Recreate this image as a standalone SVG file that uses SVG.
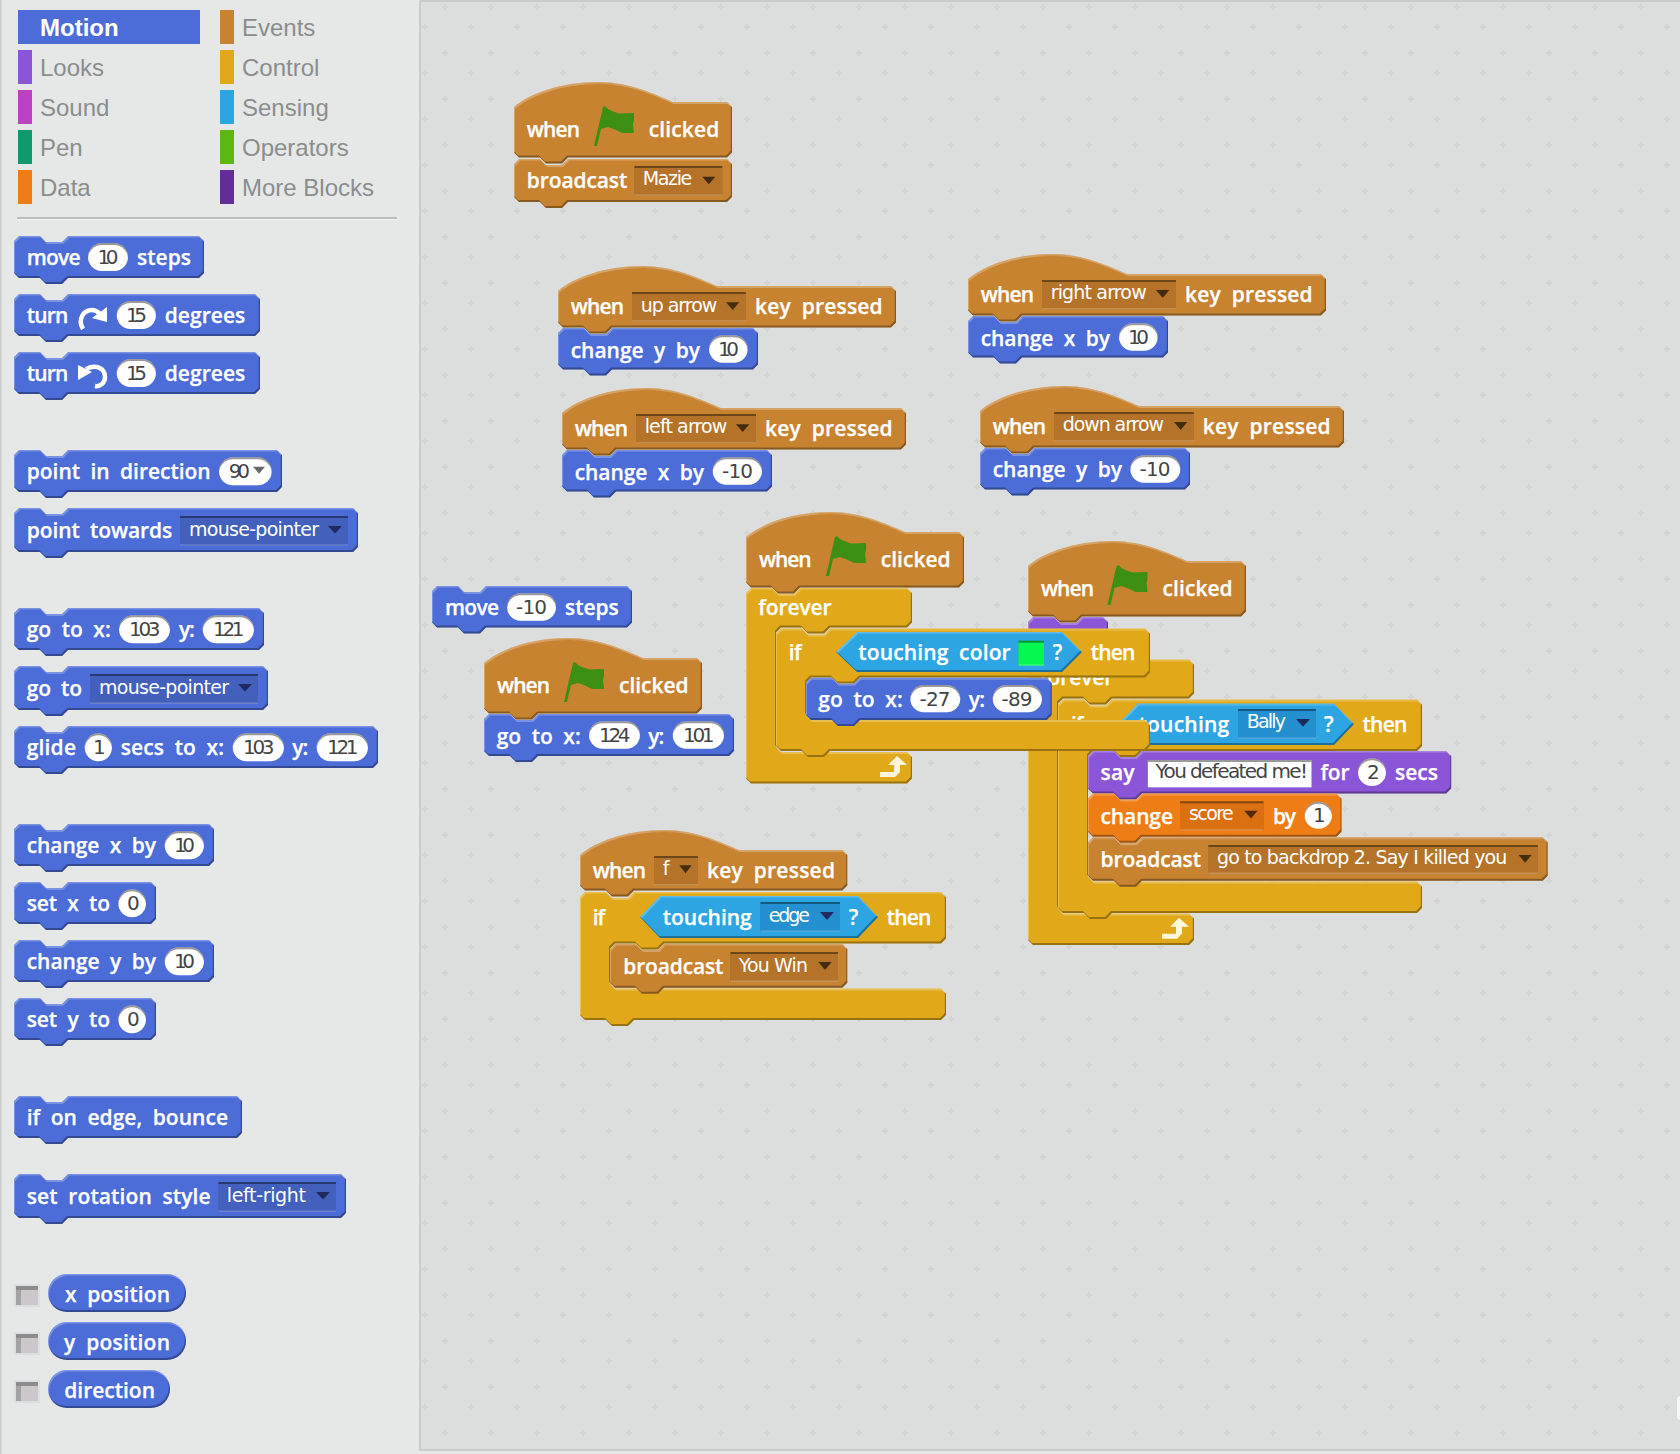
<svg xmlns="http://www.w3.org/2000/svg" xmlns:xlink="http://www.w3.org/1999/xlink" width="1680" height="1454" viewBox="0 0 1680 1454">
<style>
.t{font:600 21px "Open Sans","DejaVu Sans",sans-serif;fill:#fff;word-spacing:5px;stroke:#fff;stroke-width:.25px;transform:translateY(.3px)}
.n{font:400 20px "DejaVu Sans","Open Sans",sans-serif;fill:#444;text-anchor:start}
.m{font:400 19px "DejaVu Sans","Open Sans",sans-serif;fill:#fff}
.c{font:400 24px "Liberation Sans",Arial,sans-serif;fill:#8b8d8d}
.bk{filter:url(#bv)}
.inp{fill:#fff;filter:url(#iv)}
.mn{filter:url(#iv)}
.mot{fill:#4c6cd8}.evt{fill:#c88331}.ctl{fill:#e1a91a}.sen{fill:#2ca5e2}.loo{fill:#8a55d7}.dat{fill:#ee7d16}
.mmot{fill:#4360bd}.mevt{fill:#b47328}.msen{fill:#2490cf}.mdat{fill:#da7012}
.a{fill:#000;fill-opacity:.62}
.ar{fill:#1e2a60}
.lp{fill:#fff6dc}
.fl{fill:#3d8f13}
.ck{fill:#dedee2}.ci{fill:#cbc7ca}.ct{fill:#8c8c8c}.cl{fill:#a2a2a2}
</style>
<defs>
<filter id="bv" x="-2%" y="-6%" width="104%" height="112%" color-interpolation-filters="sRGB">
<feOffset in="SourceAlpha" dx="1" dy="1.5" result="a"/><feComposite in="SourceAlpha" in2="a" operator="out" result="tp"/>
<feFlood flood-color="#fff" flood-opacity=".26"/><feComposite in2="tp" operator="in" result="hi"/>
<feOffset in="SourceAlpha" dx="-1.2" dy="-2" result="b"/><feComposite in="SourceAlpha" in2="b" operator="out" result="bt"/>
<feFlood flood-color="#000" flood-opacity=".32"/><feComposite in2="bt" operator="in" result="lo"/>
<feMerge><feMergeNode in="SourceGraphic"/><feMergeNode in="hi"/><feMergeNode in="lo"/></feMerge>
</filter>
<filter id="iv" x="-2%" y="-6%" width="104%" height="112%" color-interpolation-filters="sRGB">
<feOffset in="SourceAlpha" dy="2" result="a"/><feComposite in="SourceAlpha" in2="a" operator="out" result="tp"/>
<feFlood flood-color="#000" flood-opacity=".4"/><feComposite in2="tp" operator="in" result="hi"/>
<feOffset in="SourceAlpha" dy="-1.5" result="b"/><feComposite in="SourceAlpha" in2="b" operator="out" result="bt"/>
<feFlood flood-color="#fff" flood-opacity=".22"/><feComposite in2="bt" operator="in" result="lo"/>
<feMerge><feMergeNode in="SourceGraphic"/><feMergeNode in="hi"/><feMergeNode in="lo"/></feMerge>
</filter>
<pattern id="g" width="46" height="46" patternUnits="userSpaceOnUse"><path fill="#d3d5d4" d="M30,4h2v2h2v2h-2v2h-2v-2h-2v-2h2zM10,24h2v2h2v2h-2v2h-2v-2h-2v-2h2z"/></pattern>
<path id="flag" d="M0,40L9,1 11,0 14,3 18,5 25,7.5 40,7 40,14 39,18 40,27 33,27 28,27 22,24 14,21 7,23 3,40z"/>
<path id="loop" d="M0,16H14V9H8L17,0 27,9H20V16L15,21H0z"/>
</defs>
<rect width="1680" height="1454" fill="#e6e8e8"/>
<rect x="0" y="0" width="1.5" height="1454" fill="#c9cbcb"/>
<g id="scripts-pane"><rect x="420" y="1" width="1261" height="1449" fill="#dcdedd" stroke="#c2c4c3" stroke-width="1.5"/><rect x="420" y="2" width="1260" height="1447" fill="url(#g)"/><rect x="1677" y="1396" width="10" height="24" rx="4" fill="#f5f5f5"/></g>
<g id="categories">
<rect x="18" y="10" width="182" height="34" fill="#4c6cd8"/><text x="40" y="36" style="font:700 24px 'Liberation Sans',Arial,sans-serif;fill:#fff">Motion</text>
<rect x="18" y="50" width="14" height="34" fill="#8a55d7"/><text class="c" x="40" y="76">Looks</text>
<rect x="18" y="90" width="14" height="34" fill="#bb42c3"/><text class="c" x="40" y="116">Sound</text>
<rect x="18" y="130" width="14" height="34" fill="#0e9a6c"/><text class="c" x="40" y="156">Pen</text>
<rect x="18" y="170" width="14" height="34" fill="#ee7d16"/><text class="c" x="40" y="196">Data</text>
<rect x="220" y="10" width="14" height="34" fill="#c88331"/><text class="c" x="242" y="36">Events</text>
<rect x="220" y="50" width="14" height="34" fill="#e1a91a"/><text class="c" x="242" y="76">Control</text>
<rect x="220" y="90" width="14" height="34" fill="#2ca5e2"/><text class="c" x="242" y="116">Sensing</text>
<rect x="220" y="130" width="14" height="34" fill="#5cb712"/><text class="c" x="242" y="156">Operators</text>
<rect x="220" y="170" width="14" height="34" fill="#632d99"/><text class="c" x="242" y="196">More Blocks</text>
<rect x="17" y="217" width="380" height="2" fill="#bbbdbd"/><rect x="17" y="219" width="380" height="1" fill="#f1f2f2"/>
</g>

<g id="p-move"><path class="bk mot" d="M14,241l5-5h21l6,6h16l6-6H199l5,5V273l-5,5H68l-6,6h-16l-6-6H19l-5-5z"/><text class="t" x="26.7" y="265" textLength="54">move</text><rect class="inp" x="88" y="243" width="40" height="28" rx="14"/><text class="n" x="97.5" y="264" textLength="21">10</text><text class="t" x="137" y="265" textLength="54">steps</text></g>
<g id="p-turn-cw"><path class="bk mot" d="M14,299l5-5h21l6,6h16l6-6H255l5,5V331l-5,5H68l-6,6h-16l-6-6H19l-5-5z"/><text class="t" x="26.7" y="323" textLength="41.6">turn</text><path d="M83,329C77,319 84,310 92,310C95,310 97,311 100,314" fill="none" stroke="#fff" stroke-width="4.5"/><path d="M107,307V322L92,318z" fill="#fff"/><rect class="inp" x="116.7" y="301" width="39.3" height="28" rx="14"/><text class="n" x="126" y="322" textLength="21">15</text><text class="t" x="164.7" y="323" textLength="80.6">degrees</text></g>
<g id="p-turn-ccw"><path class="bk mot" d="M14,357l5-5h21l6,6h16l6-6H255l5,5V389l-5,5H68l-6,6h-16l-6-6H19l-5-5z"/><text class="t" x="26.7" y="381" textLength="41.6">turn</text><path d="M86,369C96,364 105,368 105,377C105,383 100,387 95,386" fill="none" stroke="#fff" stroke-width="4.5"/><path d="M78,365V380L92,372z" fill="#fff"/><rect class="inp" x="116.7" y="359" width="39.3" height="28" rx="14"/><text class="n" x="126" y="380" textLength="21">15</text><text class="t" x="164.7" y="381" textLength="80.6">degrees</text></g>
<g id="p-point-dir"><path class="bk mot" d="M14,455l5-5h21l6,6h16l6-6H277l5,5V487l-5,5H68l-6,6h-16l-6-6H19l-5-5z"/><text class="t" x="26.7" y="479" textLength="184">point in direction</text><rect class="inp" x="219" y="457.3" width="52.7" height="28" rx="14"/><text class="n" x="228.7" y="478" textLength="21.3">90</text><path d="M253,466.7h12l-6,7z" fill="#666"/></g>
<g id="p-point-to"><path class="bk mot" d="M14,513l5-5h21l6,6h16l6-6H353l5,5V547l-5,5H68l-6,6h-16l-6-6H19l-5-5z"/><text class="t" x="26.7" y="538" textLength="145.6">point towards</text><rect class="mn mmot" x="180" y="516" width="168" height="29.7"/><text class="m" x="189" y="536" textLength="130">mouse-pointer</text><path class="ar" d="M328,526h14l-7,7.5z"/></g>
<g id="p-goto-xy"><path class="bk mot" d="M14,613l5-5h21l6,6h16l6-6H259l5,5V645l-5,5H68l-6,6h-16l-6-6H19l-5-5z"/><text class="t" x="26.7" y="637" textLength="84">go to x:</text><rect class="inp" x="119" y="615.3" width="51" height="28" rx="14"/><text class="n" x="129" y="636" textLength="31.5">103</text><text class="t" x="179" y="637" textLength="15.7">y:</text><rect class="inp" x="202.7" y="615.3" width="51.3" height="28" rx="14"/><text class="n" x="213" y="636" textLength="31.5">121</text></g>
<g id="p-goto"><path class="bk mot" d="M14,671l5-5h21l6,6h16l6-6H263l5,5V705l-5,5H68l-6,6h-16l-6-6H19l-5-5z"/><text class="t" x="26.7" y="696" textLength="55.3">go to</text><rect class="mn mmot" x="90" y="674" width="168" height="30"/><text class="m" x="99" y="694" textLength="130">mouse-pointer</text><path class="ar" d="M238,684h14l-7,7.5z"/></g>
<g id="p-glide"><path class="bk mot" d="M14,731l5-5h21l6,6h16l6-6H373l5,5V763l-5,5H68l-6,6h-16l-6-6H19l-5-5z"/><text class="t" x="26.7" y="755" textLength="49.3">glide</text><rect class="inp" x="84.7" y="733.3" width="27.3" height="28" rx="14"/><text class="n" x="93" y="754" textLength="10.5">1</text><text class="t" x="120.7" y="755" textLength="103.3">secs to x:</text><rect class="inp" x="232.7" y="733.3" width="51.3" height="28" rx="14"/><text class="n" x="243" y="754" textLength="31.5">103</text><text class="t" x="292.3" y="755" textLength="16">y:</text><rect class="inp" x="316.7" y="733.3" width="51.3" height="28" rx="14"/><text class="n" x="327" y="754" textLength="31.5">121</text></g>
<g id="p-change-x"><path class="bk mot" d="M14,829l5-5h21l6,6h16l6-6H209l5,5V861l-5,5H68l-6,6h-16l-6-6H19l-5-5z"/><text class="t" x="26.7" y="853" textLength="129.3">change x by</text><rect class="inp" x="164.7" y="831.3" width="39.3" height="28" rx="14"/><text class="n" x="174" y="852" textLength="21">10</text></g>
<g id="p-set-x"><path class="bk mot" d="M14,887l5-5h21l6,6h16l6-6H151l5,5V919l-5,5H68l-6,6h-16l-6-6H19l-5-5z"/><text class="t" x="26.7" y="911" textLength="83.3">set x to</text><rect class="inp" x="118.3" y="889.3" width="27.7" height="28" rx="14"/><text class="n" x="127" y="910" textLength="10.5">0</text></g>
<g id="p-change-y"><path class="bk mot" d="M14,945l5-5h21l6,6h16l6-6H209l5,5V977l-5,5H68l-6,6h-16l-6-6H19l-5-5z"/><text class="t" x="26.7" y="969" textLength="129.3">change y by</text><rect class="inp" x="164.7" y="947.3" width="39.3" height="28" rx="14"/><text class="n" x="174" y="968" textLength="21">10</text></g>
<g id="p-set-y"><path class="bk mot" d="M14,1003l5-5h21l6,6h16l6-6H151l5,5V1035l-5,5H68l-6,6h-16l-6-6H19l-5-5z"/><text class="t" x="26.7" y="1027" textLength="83.3">set y to</text><rect class="inp" x="118.3" y="1005.3" width="27.7" height="28" rx="14"/><text class="n" x="127" y="1026" textLength="10.5">0</text></g>
<g id="p-bounce"><path class="bk mot" d="M14,1101l5-5h21l6,6h16l6-6H237l5,5V1133l-5,5H68l-6,6h-16l-6-6H19l-5-5z"/><text class="t" x="26.7" y="1125" textLength="201.3">if on edge, bounce</text></g>
<g id="p-rotation"><path class="bk mot" d="M14,1179l5-5h21l6,6h16l6-6H341l5,5V1213l-5,5H68l-6,6h-16l-6-6H19l-5-5z"/><text class="t" x="26.7" y="1204" textLength="184">set rotation style</text><rect class="mn mmot" x="218.3" y="1182" width="117.7" height="30"/><text class="m" x="226.7" y="1202" textLength="79.3">left-right</text><path class="ar" d="M316,1192h14l-7,7.5z"/></g>
<g id="p-x-pos"><rect class="ck" x="14" y="1284" width="26" height="23"/><rect class="ci" x="16" y="1286" width="22" height="19"/><rect class="cl" x="16" y="1286" width="5" height="19"/><rect class="ct" x="16" y="1286" width="22" height="4"/><rect class="bk mot" x="48" y="1274" width="138" height="38" rx="19"/><text class="t" x="65" y="1302" textLength="105">x position</text></g>
<g id="p-y-pos"><rect class="ck" x="14" y="1332" width="26" height="23"/><rect class="ci" x="16" y="1334" width="22" height="19"/><rect class="cl" x="16" y="1334" width="5" height="19"/><rect class="ct" x="16" y="1334" width="22" height="4"/><rect class="bk mot" x="48" y="1322" width="138" height="38" rx="19"/><text class="t" x="64" y="1350" textLength="106">y position</text></g>
<g id="p-direction"><rect class="ck" x="14" y="1380" width="26" height="23"/><rect class="ci" x="16" y="1382" width="22" height="19"/><rect class="cl" x="16" y="1382" width="5" height="19"/><rect class="ct" x="16" y="1382" width="22" height="4"/><rect class="bk mot" x="48" y="1370" width="122" height="38" rx="19"/><text class="t" x="64.3" y="1398" textLength="90.7">direction</text></g>

<g id="s-mazie-hat"><path class="bk evt" d="M514,107c15-13 45-25 85-25c30,0 55,12 74,20H727l5,5V152.500l-5,5H568l-6,6h-16l-6-6H519l-5-5z"/><text class="t" x="526.7" y="137" textLength="53.3">when</text><use href="#flag" class="fl" x="594" y="106"/><text class="t" x="648.7" y="137" textLength="70.6">clicked</text></g>
<g id="s-mazie"><path class="bk evt" d="M514,164l5-5h21l6,6h16l6-6H727l5,5V197l-5,5H568l-6,6h-16l-6-6H519l-5-5z"/><text class="t" x="526.7" y="188" textLength="100.6">broadcast</text><rect class="mn mevt" x="634.3" y="166" width="88" height="29.7"/><text class="m" x="642.7" y="185" textLength="49.6">Mazie</text><path class="a" d="M702.300,176.700h13l-6.500,7.500z"/></g>

<g id="s-up-hat"><path class="bk evt" d="M558,291c15-13 45-25 85-25c30,0 55,12 74,20H891l5,5V322.500l-5,5H612l-6,6h-16l-6-6H563l-5-5z"/><text class="t" x="570.7" y="313.300" textLength="53.3">when</text><rect class="mn mevt" x="632" y="292" width="114" height="29.300"/><text class="m" x="640.7" y="311.700" textLength="76.600">up arrow</text><path class="a" d="M726,302.300h13.300l-6.600,7.700z"/><text class="t" x="755" y="313.300" textLength="127.700">key pressed</text></g>
<g id="s-up"><path class="bk mot" d="M558,333l5-5h21l6,6h16l6-6H753l5,5V364.500l-5,5H612l-6,6h-16l-6-6H563l-5-5z"/><text class="t" x="570.7" y="357.300" textLength="129.300">change y by</text><rect class="inp" x="709" y="335.300" width="38.700" height="27.400" rx="13.700"/><text class="n" x="718" y="356" textLength="21">10</text></g>
<g id="s-left-hat"><path class="bk evt" d="M562,413c15-13 45-25 85-25c30,0 55,12 74,20H901l5,5V444.500l-5,5H616l-6,6h-16l-6-6H567l-5-5z"/><text class="t" x="574.7" y="435.300" textLength="53.3">when</text><rect class="mn mevt" x="636" y="414" width="120" height="29.300"/><text class="m" x="644.7" y="433.300" textLength="82.600">left arrow</text><path class="a" d="M736,424.300h13.300l-6.600,7.700z"/><text class="t" x="765" y="435.300" textLength="127.700">key pressed</text></g>
<g id="s-left"><path class="bk mot" d="M562,455l5-5h21l6,6h16l6-6H767l5,5V486.500l-5,5H616l-6,6h-16l-6-6H567l-5-5z"/><text class="t" x="574.7" y="479.300" textLength="129.300">change x by</text><rect class="inp" x="712.7" y="457.300" width="49.300" height="27.400" rx="13.700"/><text class="n" x="722" y="478" textLength="31">-10</text></g>
<g id="s-right-hat"><path class="bk evt" d="M968,279c15-13 45-25 85-25c30,0 55,12 74,20H1321l5,5V310.500l-5,5H1022l-6,6h-16l-6-6H973l-5-5z"/><text class="t" x="980.7" y="301.300" textLength="53.3">when</text><rect class="mn mevt" x="1042" y="280" width="134" height="29.300"/><text class="m" x="1050.7" y="299.300" textLength="96">right arrow</text><path class="a" d="M1156,290h13.300l-6.600,8z"/><text class="t" x="1185" y="301.300" textLength="127.700">key pressed</text></g>
<g id="s-right"><path class="bk mot" d="M968,321l5-5h21l6,6h16l6-6H1163l5,5V352.500l-5,5H1022l-6,6h-16l-6-6H973l-5-5z"/><text class="t" x="980.7" y="345.300" textLength="129.300">change x by</text><rect class="inp" x="1119" y="323.300" width="38.700" height="27.400" rx="13.700"/><text class="n" x="1128" y="344" textLength="21">10</text></g>
<g id="s-down-hat"><path class="bk evt" d="M980,411c15-13 45-25 85-25c30,0 55,12 74,20H1339l5,5V442.500l-5,5H1034l-6,6h-16l-6-6H985l-5-5z"/><text class="t" x="992.7" y="433.300" textLength="53.3">when</text><rect class="mn mevt" x="1054" y="412" width="140" height="29.300"/><text class="m" x="1062.7" y="431.300" textLength="101.300">down arrow</text><path class="a" d="M1174,422h13.300l-6.600,8z"/><text class="t" x="1202.7" y="433.300" textLength="128">key pressed</text></g>
<g id="s-down"><path class="bk mot" d="M980,453l5-5h21l6,6h16l6-6H1185l5,5V484.500l-5,5H1034l-6,6h-16l-6-6H985l-5-5z"/><text class="t" x="992.7" y="477" textLength="129.300">change y by</text><rect class="inp" x="1130.3" y="455.300" width="50" height="27.400" rx="13.700"/><text class="n" x="1139.500" y="476" textLength="31">-10</text></g>
<g id="s-move"><path class="bk mot" d="M432,591l5-5h21l6,6h16l6-6H627l5,5V622.500l-5,5H486l-6,6h-16l-6-6H437l-5-5z"/><text class="t" x="445" y="615" textLength="54">move</text><rect class="inp" x="507" y="593.300" width="49" height="27.400" rx="13.700"/><text class="n" x="516" y="614" textLength="31">-10</text><text class="t" x="565" y="615" textLength="53.700">steps</text></g>
<g id="s-goto-hat"><path class="bk evt" d="M484,663c15-13 45-25 85-25c30,0 55,12 74,20H697l5,5V708.500l-5,5H538l-6,6h-16l-6-6H489l-5-5z"/><text class="t" x="497" y="692.700" textLength="53">when</text><use href="#flag" class="fl" x="564" y="662"/><text class="t" x="619" y="692.700" textLength="69.700">clicked</text></g>
<g id="s-goto"><path class="bk mot" d="M484,719l5-5h21l6,6h16l6-6H729l5,5V751l-5,5H538l-6,6h-16l-6-6H489l-5-5z"/><text class="t" x="496.700" y="743.300" textLength="84">go to x:</text><rect class="inp" x="589" y="721.300" width="51" height="27.400" rx="13.700"/><text class="n" x="599" y="742" textLength="31.500">124</text><text class="t" x="648.300" y="743.300" textLength="16">y:</text><rect class="inp" x="672.700" y="721.300" width="51.300" height="27.400" rx="13.700"/><text class="n" x="683" y="742" textLength="31.500">101</text></g>

<g id="s-f-hat"><path class="bk evt" d="M580,855c15-13 45-25 85-25c30,0 55,12 74,20H842.300l5,5V885.500l-5,5H634l-6,6h-16l-6-6H585l-5-5z"/><text class="t" x="592.700" y="877.300" textLength="53.300">when</text><rect class="mn mevt" x="654" y="856" width="44" height="29.300"/><text class="m" x="662.700" y="875">f</text><path class="a" d="M679.300,865.300h12.400l-6.200,8z"/><text class="t" x="707" y="877.300" textLength="128">key pressed</text></g>
<g id="s-f-if"><path class="bk ctl" d="M580,897l5-5h21l6,6h16l6-6H941l5,5V938.500l-5,5H664l-6,6h-16l-6-6H615l-5,5V983.500l5,5H941l5,5V1015l-5,5H634l-6,6h-16l-6-6H585l-5-5z"/><text class="t" x="592.700" y="925" textLength="12.300">if</text><path class="bk sen" d="M640,917L660,896H858L878,917L858,938H660z"/><text class="t" x="662.700" y="925" textLength="89">touching</text><rect class="mn msen" x="760.300" y="902" width="79.700" height="30"/><text class="m" x="768.700" y="921.700" textLength="41.300">edge</text><path class="ar" d="M820,912h14l-7,8z"/><text class="t" x="848.700" y="925">?</text><text class="t" x="886.700" y="925" textLength="44.600">then</text></g>
<g id="s-f-broadcast"><path class="bk evt" d="M610,949l5-5h21l6,6h16l6-6H842.300l5,5V982.700l-5,5H664l-6,6h-16l-6-6H615l-5-5z"/><text class="t" x="623.300" y="974" textLength="100">broadcast</text><rect class="mn mevt" x="730.300" y="952" width="107.700" height="30"/><text class="m" x="738.700" y="971.700" textLength="69.300">You Win</text><path class="a" d="M818.300,962h13.400l-6.700,8z"/></g>

<g id="s-d-hat"><path class="bk loo" d="M1028,622l5-5h21l6,6h16l6-6H1103l5,5V661l-5,5H1033l-5-5z"/><path class="bk evt" d="M1028,566c15-13 45-25 85-25c30,0 55,12 74,20H1241l5,5V611.500l-5,5H1082l-6,6h-16l-6-6H1033l-5-5z"/><text class="t" x="1040.900" y="596" textLength="53.100">when</text><use href="#flag" class="fl" x="1107.500" y="565"/><text class="t" x="1162.600" y="596" textLength="70.100">clicked</text></g>
<g id="s-d-forever"><path class="bk ctl" d="M1028,664.500l5-5h21l6,6h16l6-6H1189l5,5V693.500l-5,5H1112l-6,6h-16l-6-6H1063l-5,5V908.500l5,5H1189l5,5V940l-5,5H1033l-5-5z"/><text class="t" x="1040" y="685" textLength="73.300">forever</text><use href="#loop" class="lp" x="1162" y="917.700"/></g>
<g id="s-d-if"><path class="bk ctl" d="M1058,704.500l5-5h21l6,6h16l6-6H1417l5,5V746l-5,5H1142l-6,6h-16l-6-6H1093l-5,5V876.500l5,5H1417l5,5V908l-5,5H1112l-6,6h-16l-6-6H1063l-5-5z"/><text class="t" x="1071" y="732" textLength="12.300">if</text><path class="bk sen" d="M1118,724L1138,703.500H1334L1354,724L1334,745H1138z"/><text class="t" x="1138.500" y="732" textLength="90.700">touching</text><rect class="mn msen" x="1238" y="709" width="77.900" height="30"/><text class="m" x="1246.800" y="728.300" textLength="39.200">Bally</text><path class="ar" d="M1296,719h14l-7,7.700z"/><text class="t" x="1324" y="732">?</text><text class="t" x="1362.500" y="732" textLength="44.900">then</text></g>
<g id="s-d-say"><path class="bk loo" d="M1088,756l5-5h21l6,6h16l6-6H1446.200l5,5V788.500l-5,5H1142l-6,6h-16l-6-6H1093l-5-5z"/><text class="t" x="1100.500" y="780" textLength="34">say</text><rect class="inp" x="1147.800" y="760" width="163.800" height="27.300"/><text class="n" x="1155.600" y="778.300" textLength="152.400">You defeated me!</text><text class="t" x="1320.400" y="780" textLength="29.100">for</text><rect class="inp" x="1358" y="758.300" width="28" height="27.700" rx="13.800"/><text class="n" x="1367" y="779" textLength="10.500">2</text><text class="t" x="1395" y="780" textLength="42.900">secs</text></g>
<g id="s-d-change"><path class="bk dat" d="M1088,798.500l5-5h21l6,6h16l6-6H1336.500l5,5V831.700l-5,5H1142l-6,6h-16l-6-6H1093l-5-5z"/><text class="t" x="1100.500" y="823.300" textLength="72.500">change</text><rect class="mn mdat" x="1180" y="801.300" width="83.600" height="29.400"/><text class="m" x="1188.900" y="820" textLength="44.900">score</text><path class="a" d="M1244.300,810.700h13.300l-6.600,7.700z"/><text class="t" x="1273" y="823.300" textLength="22.900">by</text><rect class="inp" x="1304.600" y="801.700" width="27.400" height="27" rx="13.500"/><text class="n" x="1313" y="822" textLength="10.500">1</text></g>
<g id="s-d-broadcast"><path class="bk evt" d="M1088,842.300l5-5h21l6,6h16l6-6H1542.700l5,5V875.700l-5,5H1142l-6,6h-16l-6-6H1093l-5-5z"/><text class="t" x="1100.500" y="866.700" textLength="100.500">broadcast</text><rect class="mn mevt" x="1208.200" y="845" width="329.700" height="29"/><text class="m" x="1216.900" y="864" textLength="290.500">go to backdrop 2. Say I killed you</text><path class="a" d="M1518.600,855h13l-6.500,7.700z"/></g>

<g id="s-c-hat"><path class="bk evt" d="M746,537c15-13 45-25 85-25c30,0 55,12 74,20H959l5,5V582.500l-5,5H800l-6,6h-16l-6-6H751l-5-5z"/><text class="t" x="759" y="566.700" textLength="52.700">when</text><use href="#flag" class="fl" x="826" y="536"/><text class="t" x="880.700" y="566.700" textLength="70">clicked</text></g>
<g id="s-c-forever"><path class="bk ctl" d="M746,593l5-5h21l6,6h16l6-6H907l5,5V622.500l-5,5H830l-6,6h-16l-6-6H781l-5,5V747l5,5H907l5,5V778.500l-5,5H751l-5-5z"/><text class="t" x="758.300" y="615" textLength="73.400">forever</text><use href="#loop" class="lp" x="880" y="756"/></g>
<g id="s-c-if"><path class="bk ctl" d="M776,633.500l5-5h21l6,6h16l6-6H1145l5,5V672.500l-5,5H860l-6,6h-16l-6-6H811l-5,5V715l5,5H1145l5,5V746l-5,5H830l-6,6h-16l-6-6H781l-5-5z"/><text class="t" x="788.700" y="660" textLength="13">if</text><path class="bk sen" d="M836,652L857,632H1062L1082,652L1062,672H857z"/><text class="t" x="858.300" y="659.300" textLength="152.400">touching color</text><rect class="mn" x="1018.300" y="640.700" width="25.700" height="25" fill="#05f850"/><text class="t" x="1052.700" y="659.300">?</text><text class="t" x="1090.700" y="660" textLength="44.600">then</text></g>
<g id="s-c-goto"><path class="bk mot" d="M806,682.700l5-5h21l6,6h16l6-6H1046.700l5,5V715l-5,5H860l-6,6h-16l-6-6H811l-5-5z"/><text class="t" x="818.300" y="707" textLength="84.400">go to x:</text><rect class="inp" x="910.300" y="685" width="50" height="27.300" rx="13.600"/><text class="n" x="919.500" y="706" textLength="31">-27</text><text class="t" x="968.700" y="707" textLength="16.300">y:</text><rect class="inp" x="992.700" y="685" width="49.300" height="27.300" rx="13.600"/><text class="n" x="1001.500" y="706" textLength="31">-89</text></g>
</svg>
